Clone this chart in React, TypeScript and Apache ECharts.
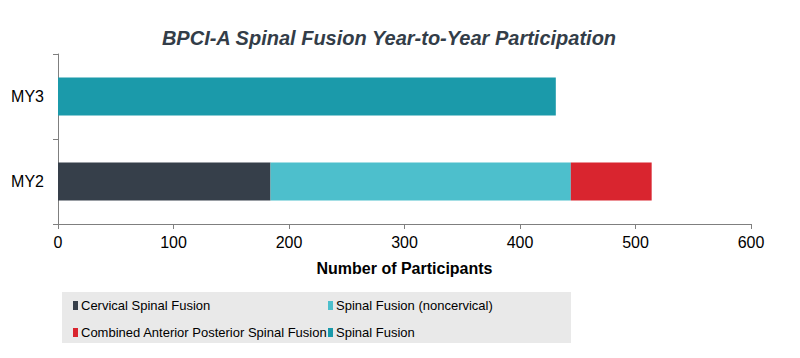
import React, { useEffect, useRef } from "react";
import * as echarts from "echarts";

const categories = ["MY2", "MY3"];
const cervical = [184, null];
const noncervical = [260, null];
const combined = [70, null];
const spinalFusion = [null, 431];
const xTicks = { min: 0, max: 600, interval: 100 };

const FONT = "'Liberation Sans', Arial, sans-serif";

export default function App() {
  const ref = useRef<HTMLDivElement>(null);
  useEffect(() => {
    const chart = echarts.init(ref.current!, null, { renderer: "svg" });
    const mk = (name: string, data: (number | null)[], color: string) => ({
      name,
      type: "bar",
      stack: "total",
      data,
      barWidth: 38,
      itemStyle: { color },
    });
    const legendText = { fontFamily: FONT, fontSize: 13, color: "#000", padding: [0, 0, 0, -2] };
    chart.setOption({
      animation: false,
      textStyle: { fontFamily: FONT },
      title: {
        text: "BPCI-A Spinal Fusion Year-to-Year Participation",
        left: 384,
        textAlign: "center",
        top: 23,
        textStyle: { fontFamily: FONT, fontSize: 20, fontWeight: "bold", fontStyle: "italic", color: "#333d48" },
      },
      grid: { left: 58, right: 49, top: 54, bottom: 134 },
      xAxis: {
        type: "value",
        min: xTicks.min,
        max: xTicks.max,
        interval: xTicks.interval,
        name: "Number of Participants",
        nameLocation: "middle",
        nameGap: 36,
        nameTextStyle: { fontFamily: FONT, fontSize: 16, fontWeight: "bold", color: "#000" },
        axisLine: { show: true, lineStyle: { color: "#7f7f7f" } },
        axisTick: { show: true, length: 5, lineStyle: { color: "#7f7f7f" } },
        axisLabel: { fontFamily: FONT, fontSize: 16, color: "#000", margin: 10 },
        splitLine: { show: false },
      },
      yAxis: {
        type: "category",
        data: categories,
        axisLine: { show: true, lineStyle: { color: "#7f7f7f" } },
        axisTick: { show: true, length: 5, lineStyle: { color: "#7f7f7f" } },
        axisLabel: { fontFamily: FONT, fontSize: 16, color: "#000", margin: 14 },
      },
      legend: [
        {
          data: ["Cervical Spinal Fusion", "Combined Anterior Posterior Spinal Fusion"],
          orient: "vertical",
          left: 68,
          top: 294,
          itemWidth: 5,
          itemHeight: 9,
          itemGap: 14,
          icon: "rect",
          textStyle: legendText,
        },
        {
          data: ["Spinal Fusion (noncervical)", "Spinal Fusion"],
          orient: "vertical",
          left: 323,
          top: 294,
          itemWidth: 5,
          itemHeight: 9,
          itemGap: 14,
          icon: "rect",
          textStyle: legendText,
        },
      ],
      graphic: [
        {
          type: "rect",
          shape: { x: 62, y: 292, width: 509, height: 51 },
          style: { fill: "#e9e9e9" },
          z: -10,
          silent: true,
        },
      ],
      series: [
        mk("Cervical Spinal Fusion", cervical, "#363f4a"),
        mk("Spinal Fusion (noncervical)", noncervical, "#4dbfcc"),
        mk("Combined Anterior Posterior Spinal Fusion", combined, "#d9252f"),
        mk("Spinal Fusion", spinalFusion, "#1b9aaa"),
      ],
    });
    return () => chart.dispose();
  }, []);
  return <div ref={ref} style={{ width: 800, height: 358, position: "absolute", left: 0, top: 0 }} />;
}
